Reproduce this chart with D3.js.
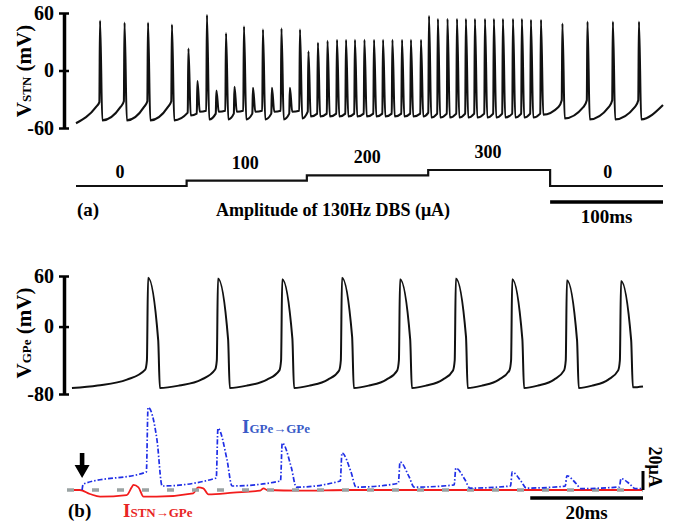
<!DOCTYPE html>
<html>
<head>
<meta charset="utf-8">
<script src="https://cdn.jsdelivr.net/npm/d3@7"></script>
<style>
  body { margin: 0; background: #fff; }
  svg { display: block; }
  text { font-family: "Liberation Serif", "Times New Roman", serif; font-weight: bold; }
</style>
</head>
<body>
<svg id="fig" width="686" height="523"></svg>
<script>
// ---------- panel (a): STN membrane potential under stepped 130Hz DBS ----------
// spike times (ms), peak / onset / trough potentials (mV)
const stnSpikeT = [21.3, 43.0, 63.8, 85.0,
    99.6, 107.6, 116.0, 124.4, 132.9, 140.4, 148.8, 156.8, 165.6, 173.6, 182.0, 189.5, 198.4,
    205.9, 214.3, 222.8, 231.2, 239.2, 247.1, 255.5, 264.0, 272.0, 280.3, 288.8, 296.7, 305.6,
    312.7, 320.6, 329.1, 337.5, 345.4, 353.4, 362.3, 370.2, 378.2, 387.1, 395.0, 403.0, 411.9,
    430.9, 453.1, 475.6, 498.7];
const stnPeak = [52, 50, 50, 48,
    23, -11, 58, -21, 39, -17, 46, -18, 43, -18, 44, -18, 43,
    20, 29, 31, 32, 32, 32, 32, 32, 32, 32, 32, 32, 32,
    57, 54, 54, 54, 54, 54, 54, 54, 54, 54, 54, 53, 53,
    49, 51, 51, 51];
const stnOnset = [-33, -32, -32, -32,
    -44, -45, -42, -45, -42, -45, -42, -45, -42, -45, -42, -45, -42,
    -43, -45, -45, -45, -45, -45, -45, -45, -45, -45, -45, -45, -45,
    -44, -45, -45, -45, -45, -45, -45, -45, -45, -45, -45, -45, -45,
    -31, -31, -31, -31];
const stnTrough = [-52, -52, -52, -52,
    -47, -43, -51, -43, -51, -43, -51, -43, -51, -43, -51, -43, -50,
    -48, -48, -48, -48, -48, -48, -48, -48, -48, -48, -48, -48, -48,
    -49, -49, -49, -49, -49, -49, -49, -49, -49, -49, -49, -49, -46,
    -50, -51, -51, -51];
// slow ramp just before the unstimulated spikes (null = no ramp visible)
const stnPreRamp = [-38, -38, -38, -38,
    null, null, null, null, null, null, null, null, null, null, null, null, null,
    null, null, null, null, null, null, null, null, null, null, null, null, null,
    null, null, null, null, null, null, null, null, null, null, null, null, null,
    -38, -38, -38, -38];
const stnStartV = -55;
const stnEndV = -36;
const stnEndT = 520;
const stnTicks = [-60, 0, 60];

const stimEdges = [0, 98, 204.5, 312, 420, 520];
const stimAmp = [0, 100, 200, 300, 0];
const stimLabelT = [39, 150, 258, 365, 471];
const stimLabels = ['0', '100', '200', '300', '0'];
const timeBarA = [420, 520];   // 100 ms

// ---------- panel (b): GPe potential and synaptic currents ----------
const gpeSpikeT = [14.2, 26.6, 38.0, 48.6, 58.9, 68.8, 78.8, 88.5, 98.1];
const gpePeak = [58, 57, 56, 58, 56, 57, 56, 55, 54];
const gpeShoulder = [-16, -15, -14, -12, -15, -12, -15, -16, -16];
const gpeTrough = [-73, -73, -73, -73, -73, -73, -73, -73, -72];
const gpeOnset = [-51, -51, -52, -52, -52, -52, -52, -52, -52];
const gpeRampFrac = [0.35, 0.75];
const gpeRampV = [-70, -63];
const gpeStart = [0.7, -73];
const gpeEnd = [102, -71];
const gpeTicks = [-80, 0, 60];

// I GPe->GPe (uA), same spike times
const bluePeak = [87, 65, 49.5, 39, 29.5, 23, 19, 15, 12];
const blueShoulder = [52, 32, 24, 19, 14, 11, 9, 7, 6];
const blueTrough = [4.2, 4.2, 3, 3, 3, 2, 2, 1.5, 1.5];
const blueOnset = [19, 12.6, 9.5, 9.5, 7, 5.3, 4.2, 4, 3.2];
const blueStartT = 2.5;
const blueEnd = [102, 1.5];

// I STN->GPe (uA)
const redT = [0, 2.1, 3.9, 5.7, 10.4, 11.3, 11.6, 12.5, 13.4, 15.7, 22.2, 23.1, 24.0, 24.9, 29.3, 34.1, 34.7, 35.3, 41.2, 50.0, 102];
const redI = [0, 0, -4.2, -7, -5.3, 2.8, 5.3, 2.8, -7, -7, -3.5, 2.8, 1.8, -4.5, -2.8, -0.7, 1.8, 0, -0.7, 0, 0];

const timeBarB = [82, 102];   // 20 ms
const currentBar = [0, 20];   // 20 uA
const arrowT = 2.5;

const svg = d3.select('#fig');

const xA = d3.scaleLinear().domain([0, stnEndT]).range([76, 663]);
const yA = d3.scaleLinear().domain([-60, 60]).range([128, 13]);
const yStim = d3.scaleLinear().domain([0, 300]).range([186, 170]);

const xB = d3.scaleLinear().domain([0, 102]).range([68, 643]);
const yB = d3.scaleLinear().domain([-80, 60]).range([394, 276]);
const yI = d3.scaleLinear().domain([0, 20]).range([490, 471]);

function drawVAxis(x, scale, ticks) {
    const g = svg.append('g')
        .attr('transform', `translate(${x},0)`)
        .call(d3.axisLeft(scale).tickValues(ticks).tickFormat(d => String(d)).tickSizeOuter(0));
    g.attr('font-size', null).attr('font-family', null);
    g.select('.domain').attr('stroke', '#000').attr('stroke-width', 3.5);
    g.selectAll('.tick line').attr('x1', -5).attr('x2', 5).attr('stroke', '#000').attr('stroke-width', 2.5);
    g.selectAll('.tick text')
        .attr('x', -10)
        .attr('fill', '#000')
        .style('font-size', '20px');
}

function yLabel(cx, cy, sub) {
    const t = svg.append('text')
        .attr('transform', `translate(${cx},${cy}) rotate(-90)`)
        .attr('text-anchor', 'middle');
    t.append('tspan').style('font-size', '21px').text('V');
    t.append('tspan').style('font-size', '13px').text(sub);
    t.append('tspan').style('font-size', '21px').text(' (mV)');
}

function subLabel(x, y, sub, color) {
    const t = svg.append('text').attr('x', x).attr('y', y).attr('fill', color);
    t.append('tspan').style('font-size', '19px').text('I');
    t.append('tspan').style('font-size', '13px').text(sub);
}

// ---- panel (a) ----
drawVAxis(64, yA, stnTicks);
yLabel(31, 71, 'STN');

const stnPts = [[0, stnStartV]];
stnSpikeT.forEach((t, i) => {
    if (stnPreRamp[i] !== null) stnPts.push([t - 3.5, stnPreRamp[i]]);
    stnPts.push([t - 0.6, stnOnset[i]]);
    stnPts.push([t, stnPeak[i]]);
    stnPts.push([t + 2.0, stnTrough[i]]);
});
stnPts.push([stnEndT, stnEndV]);

svg.append('path')
    .datum(stnPts)
    .attr('fill', 'none')
    .attr('stroke', '#111')
    .attr('stroke-width', 2.1)
    .attr('stroke-linejoin', 'round')
    .attr('d', d3.line().x(d => xA(d[0])).y(d => yA(d[1])).curve(d3.curveMonotoneX));

// DBS amplitude steps
const stimPts = stimAmp.map((a, i) => [stimEdges[i], a]);
stimPts.push([stimEdges[stimEdges.length - 1], stimAmp[stimAmp.length - 1]]);
svg.append('path')
    .datum(stimPts)
    .attr('fill', 'none')
    .attr('stroke', '#111')
    .attr('stroke-width', 2.2)
    .attr('d', d3.line().x(d => xA(d[0])).y(d => yStim(d[1])).curve(d3.curveStepAfter));

svg.selectAll('.stim-label')
    .data(stimLabels)
    .enter()
    .append('text')
    .attr('class', 'stim-label')
    .attr('x', (d, i) => xA(stimLabelT[i]))
    .attr('y', (d, i) => yStim(stimAmp[i]) - (stimAmp[i] === 0 ? 8 : 12))
    .attr('text-anchor', 'middle')
    .style('font-size', '18px')
    .text(d => d);

svg.append('text').attr('x', 77).attr('y', 216).style('font-size', '19px').text('(a)');
svg.append('text').attr('x', 333).attr('y', 216).attr('text-anchor', 'middle')
    .style('font-size', '18px').text('Amplitude of 130Hz DBS (\u03bcA)');

svg.append('line')
    .attr('x1', xA(timeBarA[0])).attr('x2', xA(timeBarA[1]))
    .attr('y1', 202).attr('y2', 202)
    .attr('stroke', '#000').attr('stroke-width', 3.5);
svg.append('text').attr('x', xA((timeBarA[0] + timeBarA[1]) / 2)).attr('y', 223)
    .attr('text-anchor', 'middle').style('font-size', '19px').text('100ms');

// ---- panel (b) ----
drawVAxis(64, yB, gpeTicks);
yLabel(31, 333, 'GPe');

const gpePts = [gpeStart];
gpeSpikeT.forEach((t, i) => {
    const from = i === 0 ? gpeStart[0] : gpeSpikeT[i - 1] + 2.1;
    const onsetT = t - 0.5;
    gpeRampFrac.forEach((f, k) => gpePts.push([from + (onsetT - from) * f, gpeRampV[k]]));
    gpePts.push([onsetT, gpeOnset[i]]);
    gpePts.push([t - 0.2, -40]);
    gpePts.push([t, gpePeak[i]]);
    gpePts.push([t + 1.8, gpeShoulder[i]]);
    gpePts.push([t + 2.1, gpeTrough[i]]);
});
gpePts.push(gpeEnd);

svg.append('path')
    .datum(gpePts)
    .attr('fill', 'none')
    .attr('stroke', '#111')
    .attr('stroke-width', 2)
    .attr('stroke-linejoin', 'round')
    .attr('d', d3.line().x(d => xB(d[0])).y(d => yB(d[1])).curve(d3.curveMonotoneX));

const lineI = d3.line().x(d => xB(d[0])).y(d => yI(d[1])).curve(d3.curveMonotoneX);

// I STN->GPe
svg.append('path')
    .datum(redT.map((t, i) => [t, redI[i]]))
    .attr('fill', 'none')
    .attr('stroke', '#f21c1c')
    .attr('stroke-width', 1.8)
    .attr('d', lineI);

// zero reference
svg.append('line')
    .attr('x1', xB(0) - 1).attr('x2', xB(102))
    .attr('y1', yI(0)).attr('y2', yI(0))
    .attr('stroke', '#9aa3a3')
    .attr('stroke-width', 3.5)
    .attr('stroke-dasharray', '7,18');

// I GPe->GPe
const bluePts = [[blueStartT, 0], [blueStartT + 0.2, 6.3]];
gpeSpikeT.forEach((t, i) => {
    bluePts.push([t - 0.3, blueOnset[i]]);
    bluePts.push([t, bluePeak[i]]);
    bluePts.push([t + 1.6, blueShoulder[i]]);
    bluePts.push([t + 2.5, blueTrough[i]]);
});
bluePts.push(blueEnd);
svg.append('path')
    .datum(bluePts)
    .attr('fill', 'none')
    .attr('stroke', '#1f2ee6')
    .attr('stroke-width', 1.7)
    .attr('stroke-dasharray', '5,2,1.5,2')
    .attr('d', lineI);

subLabel(242, 433, 'GPe\u2192GPe', '#3a5bc7');
subLabel(123, 517, 'STN\u2192GPe', '#e82424');

// onset arrow
const ax = xB(arrowT);
const tipY = yI(0) - 12;
svg.append('path')
    .attr('d', `M${ax - 2.3},${tipY - 25} H${ax + 2.3} V${tipY - 13} H${ax + 7.5} L${ax},${tipY} L${ax - 7.5},${tipY - 13} H${ax - 2.3} Z`)
    .attr('fill', '#000');

// scale bars
svg.append('line')
    .attr('x1', xB(timeBarB[0])).attr('x2', xB(timeBarB[1]))
    .attr('y1', yI(0) + 8).attr('y2', yI(0) + 8)
    .attr('stroke', '#000').attr('stroke-width', 3.5);
svg.append('line')
    .attr('x1', xB(102)).attr('x2', xB(102))
    .attr('y1', yI(currentBar[0])).attr('y2', yI(currentBar[1]))
    .attr('stroke', '#000').attr('stroke-width', 3);
svg.append('text').attr('x', xB((timeBarB[0] + timeBarB[1]) / 2)).attr('y', 519)
    .attr('text-anchor', 'middle').style('font-size', '19px').text('20ms');
svg.append('text')
    .attr('transform', `translate(649,${yI(20) - 4}) rotate(90)`)
    .attr('text-anchor', 'middle')
    .style('font-size', '18px')
    .text('20\u03bcA');

svg.append('text').attr('x', 68).attr('y', 517).style('font-size', '19px').text('(b)');
</script>
</body>
</html>
